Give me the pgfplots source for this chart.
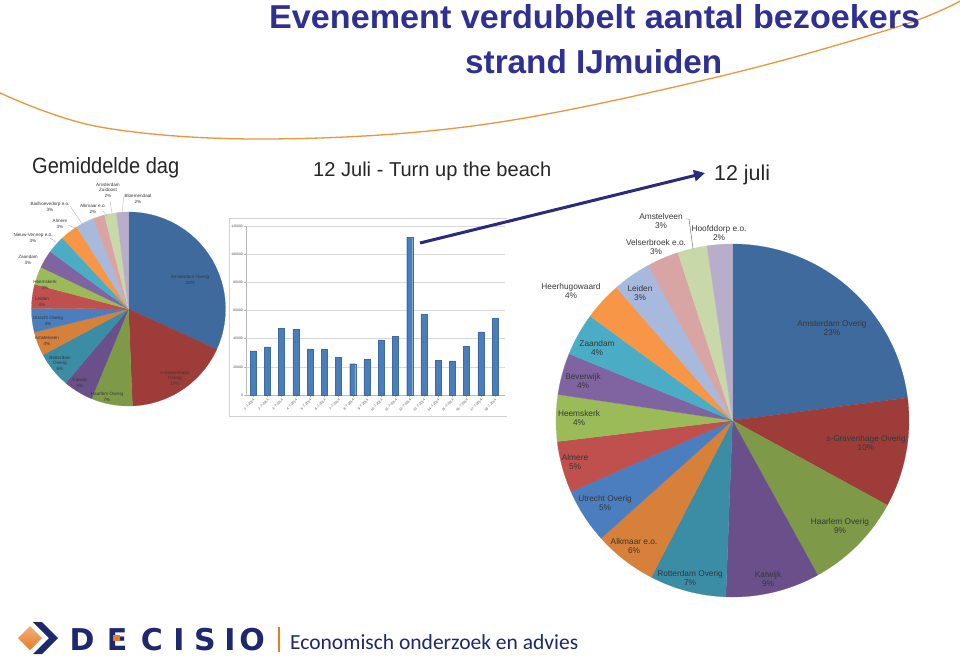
\documentclass[border=0pt]{standalone}
\usepackage{fontspec}
\setmainfont{Liberation Sans}
\newfontfamily\dejavu{DejaVu Sans}
\newfontfamily\carlito{Carlito}
\usepackage{pgfplots}
\usepackage{pgfplotstable}
\pgfplotsset{compat=1.18}
\usetikzlibrary{arrows.meta,shadings}

\definecolor{navy}{RGB}{46,49,146}
\definecolor{arrowc}{RGB}{43,42,126}
\definecolor{curvec}{RGB}{234,150,62}
\definecolor{decnavy}{RGB}{30,40,110}
\definecolor{decorange}{RGB}{232,122,40}
\definecolor{labelc}{RGB}{55,55,55}
\definecolor{c1}{RGB}{62,106,158}
\definecolor{c2}{RGB}{158,60,58}
\definecolor{c3}{RGB}{126,154,72}
\definecolor{c4}{RGB}{106,79,139}
\definecolor{c5}{RGB}{58,141,165}
\definecolor{c6}{RGB}{214,128,58}
\definecolor{c7}{RGB}{74,126,190}
\definecolor{c8}{RGB}{192,80,77}
\definecolor{c9}{RGB}{155,187,89}
\definecolor{c10}{RGB}{128,100,162}
\definecolor{c11}{RGB}{75,172,198}
\definecolor{c12}{RGB}{247,150,70}
\definecolor{c13}{RGB}{167,185,221}
\definecolor{c14}{RGB}{217,165,164}
\definecolor{c15}{RGB}{200,216,168}
\definecolor{c16}{RGB}{184,173,203}
\definecolor{barc}{RGB}{74,126,187}

\pgfplotstableread[col sep=comma]{
name,value,color
Amsterdam Overig,32,c1
s-Gravenhage Overig,17.6,c2
Haarlem Overig,6.9,c3
Katwijk,5,c4
Rotterdam Overig,6,c5
Amstelveen,4,c6
Utrecht Overig,4,c7
Leiden,4,c8
Heemskerk,3,c9
Zaandam,3,c10
Nieuw-Vennep e.o.,3,c11
Almere,3,c12
Badhoevedorp e.o.,3,c13
Alkmaar e.o.,2,c14
Amsterdam Zuidoost,2,c15
Bloemendaal,2,c16
}\leftpie

\pgfplotstableread[col sep=comma]{
name,value,color
Amsterdam Overig,22.9,c1
s-Gravenhage Overig,10,c2
Haarlem Overig,9,c3
Katwijk,8.6,c4
Rotterdam Overig,7,c5
Alkmaar e.o.,5.75,c6
Utrecht Overig,5,c7
Almere,4.7,c8
Heemskerk,4.25,c9
Beverwijk,3.8,c10
Zaandam,3.9,c11
Heerhugowaard,3.5,c12
Leiden,3.5,c13
Velserbroek e.o.,2.9,c14
Amstelveen,2.7,c15
Hoofddorp e.o.,2.3,c16
}\rightpie

\pgfplotstableread{
x value
1 31400
2 34250
3 47500
4 46800
5 32800
6 32400
7 26900
8 22200
9 25300
10 39200
11 41600
12 112000
13 57400
14 24600
15 24300
16 34700
17 44900
18 54300
}\bars

\newcommand\drawpie[2]{%
  \pgfplotstablegetrowsof{#1}%
  \pgfmathtruncatemacro\lastrow{\pgfplotsretval-1}%
  \gdef\pietotal{0}%
  \foreach \i in {0,...,\lastrow}{%
    \pgfplotstablegetelem{\i}{value}\of{#1}%
    \pgfmathsetmacro\tmp{\pietotal+\pgfplotsretval}%
    \xdef\pietotal{\tmp}%
  }%
  \gdef\pieangle{90}%
  \foreach \i in {0,...,\lastrow}{%
    \pgfplotstablegetelem{\i}{value}\of{#1}%
    \pgfmathsetmacro\endangle{\pieangle-360*\pgfplotsretval/\pietotal}%
    \pgfplotstablegetelem{\i}{color}\of{#1}%
    \edef\col{\pgfplotsretval}%
    \fill[\col, draw=\col, line width=0.2pt] (axis cs:0,0) -- (axis cs:{cos(\pieangle)},{sin(\pieangle)}) arc[start angle=\pieangle, end angle=\endangle, radius=#2] -- cycle;
    \xdef\pieangle{\endangle}%
  }%
}

\begin{document}
\begin{tikzpicture}
\begin{scope}[x=1pt,y=1pt]
\path[use as bounding box, fill=white] (0,0) rectangle (960,-661);
% decorative orange curve
\draw[curvec, line width=1.3pt] plot[smooth, tension=0.6] coordinates {(-2,-92) (100,-127) (267,-139) (480,-125) (713,-78) (897,-27) (962,0)};
% title
\node[anchor=base west, inner sep=0pt, text=navy] at (269,-28) {\resizebox{651pt}{24pt}{\bfseries Evenement verdubbelt aantal bezoekers}};
\node[anchor=base west, inner sep=0pt, text=navy] at (465,-73) {\resizebox{257pt}{24pt}{\bfseries strand IJmuiden}};
% sub headings
\node[anchor=base west, inner sep=0pt, text=black!85] at (32,-173) {\resizebox{147pt}{16pt}{Gemiddelde dag}};
\node[anchor=base west, inner sep=0pt, text=black!85] at (313,-176) {\resizebox{238pt}{!}{12 Juli - Turn up the beach}};
\node[anchor=base west, inner sep=0pt, text=black!85] at (714,-180) {\resizebox{56pt}{!}{12 juli}};
% bar chart frame
\draw[gray!35, line width=0.5pt] (229,-218) -- (229,-416) -- (507,-416);
\draw[gray!35, line width=0.5pt] (229,-218) -- (507,-218);
\end{scope}

\begin{axis}[
  at={(246pt,-395pt)}, anchor=south west,
  scale only axis, width=259pt, height=169pt,
  xmin=0.5, xmax=18.7, ymin=0, ymax=120000,
  ybar, bar width=6pt,
  axis line style={draw=gray!55, line width=0.4pt},
  axis x line*=bottom, axis y line*=left,
  ytick={0,20000,...,120000},
  scaled y ticks=false,
  yticklabel style={font=\fontsize{3.4}{4}\selectfont, text=black!70, /pgf/number format/fixed, /pgf/number format/1000 sep={}, /pgf/number format/assume math mode=true, inner sep=1pt},
  ymajorgrids, grid style={gray!30, line width=0.4pt},
  xtick={1,...,18},
  xticklabels={1-7-2014,2-7-2014,3-7-2014,4-7-2014,5-7-2014,6-7-2014,7-7-2014,8-7-2014,9-7-2014,10-7-2014,11-7-2014,12-7-2014,13-7-2014,14-7-2014,15-7-2014,16-7-2014,17-7-2014,18-7-2014},
  xticklabel style={rotate=45, anchor=north east, font=\fontsize{3.4}{4}\selectfont, text=black!70, inner sep=1pt},
  tick style={draw=gray!55, line width=0.4pt}, major tick length=2pt,
  tick align=outside,
  xtick pos=bottom, ytick pos=left,
]
\addplot[fill=barc, draw=barc!85!black, line width=0.2pt] table[x=x, y=value] {\bars};
\end{axis}

% left pie
\begin{axis}[at={(128.5pt,-309pt)}, anchor=center, scale only axis, width=194pt, height=194pt,
  xmin=-1, xmax=1, ymin=-1, ymax=1, axis lines=none, clip=false]
\pgfplotsextra{\drawpie{\leftpie}{97pt}}
\end{axis}

% right pie
\begin{axis}[at={(732.5pt,-420.5pt)}, anchor=center, scale only axis, width=353pt, height=353pt,
  xmin=-1, xmax=1, ymin=-1, ymax=1, axis lines=none, clip=false]
\pgfplotsextra{\drawpie{\rightpie}{176.5pt}}
\end{axis}

\begin{scope}[x=1pt,y=1pt,
  plab/.style={font=\fontsize{8.3}{9.6}\selectfont, text=labelc, align=center, inner sep=0pt},
  slab/.style={font=\fontsize{4.6}{5.4}\selectfont, text=labelc, align=center, inner sep=0pt}]
% left pie labels
\node[slab] at (190,-280) {Amsterdam Overig\\32\%};
\node[slab] at (175,-378) {s-Gravenhage\\Overig\\17\%};
\node[slab] at (107,-397) {Haarlem Overig\\7\%};
\node[slab] at (80,-383) {Katwijk\\5\%};
\node[slab] at (60,-363) {Rotterdam\\Overig\\6\%};
\node[slab] at (47,-341) {Amstelveen\\4\%};
\node[slab] at (48,-321) {Utrecht Overig\\4\%};
\node[slab] at (42,-302) {Leiden\\4\%};
\node[slab] at (45,-285) {Heemskerk\\3\%};
\node[slab] at (28,-260) {Zaandam\\3\%};
\node[slab] at (33,-238) {Nieuw-Vennep e.o.\\3\%};
\node[slab] at (60,-224) {Almere\\3\%};
\node[slab] at (50,-207) {Badhoevedorp e.o.\\3\%};
\node[slab] at (93,-209) {Alkmaar e.o.\\2\%};
\node[slab] at (108,-190) {Amsterdam\\Zuidoost\\2\%};
\node[slab] at (138,-199) {Bloemendaal\\2\%};
\begin{scope}[gray!70, line width=0.3pt]
\draw (70,-206) -- (83,-225);
\draw (68,-225) -- (75,-228);
\draw (103,-211) -- (107,-216);
\draw (110,-201) -- (112,-213);
\draw (124,-196) -- (122,-212);
\draw (50,-238) -- (56,-242);
\end{scope}
% right pie labels
\node[plab] at (832,-328) {Amsterdam Overig\\23\%};
\node[plab] at (866,-443) {s-Gravenhage Overig\\10\%};
\node[plab] at (840,-526) {Haarlem Overig\\9\%};
\node[plab] at (768,-579) {Katwijk\\9\%};
\node[plab] at (690,-578) {Rotterdam Overig\\7\%};
\node[plab] at (634,-546) {Alkmaar e.o.\\6\%};
\node[plab] at (605,-503) {Utrecht Overig\\5\%};
\node[plab] at (575,-462) {Almere\\5\%};
\node[plab] at (579,-418) {Heemskerk\\4\%};
\node[plab] at (583,-381) {Beverwijk\\4\%};
\node[plab] at (597,-348) {Zaandam\\4\%};
\node[plab] at (571,-291) {Heerhugowaard\\4\%};
\node[plab] at (640,-293) {Leiden\\3\%};
\node[plab] at (656,-247) {Velserbroek e.o.\\3\%};
\node[plab] at (661,-221) {Amstelveen\\3\%};
\node[plab] at (719,-233) {Hoofddorp e.o.\\2\%};
\draw[gray!70!black, line width=0.4pt] (686,-219) -- (689,-219) -- (693,-249);
% arrow
\draw[arrowc, line width=3pt, -{Triangle[length=11pt,width=11pt]}] (420,-243) -- (705,-173);
% footer logo
\shade[left color=decorange!60!white, right color=decorange, shading angle=0] (18,-638) -- (30,-626) -- (42,-638) -- (30,-650) -- cycle;
\fill[decnavy] (33,-622) -- (42,-622) -- (58,-638) -- (42,-654) -- (33,-654) -- (49,-638) -- cycle;
\foreach \lx/\ch in {82/D,117/E,152/C,179/I,205/S,230/I,252/O}{
  \node[anchor=base, inner sep=0pt, text=decnavy, font=\dejavu\bfseries\fontsize{30}{30}\selectfont] at (\lx,-650) {\ch};
}
\fill[decorange] (113,-641) rectangle (120,-635);
\draw[decorange, line width=1.5pt] (279,-627) -- (279,-652);
\node[anchor=base west, inner sep=0pt, text=decnavy] at (290,-649) {\resizebox{288pt}{!}{\carlito Economisch onderzoek en advies}};
\end{scope}
\end{tikzpicture}
\end{document}
